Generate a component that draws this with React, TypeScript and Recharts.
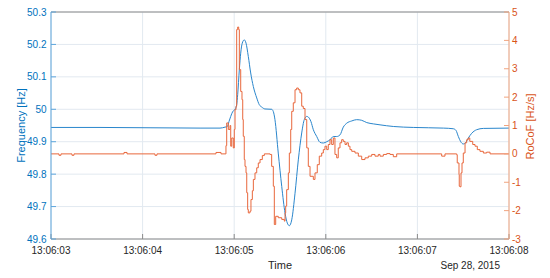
import React from 'react';
import { LineChart, Line, XAxis, YAxis, CartesianGrid, ReferenceLine } from 'recharts';

// time in seconds after 13:06:03
const freqTime = [
  0, 0.535, 1.081, 1.627, 1.845, 1.9, 1.925, 1.943, 1.962, 1.984, 2.009, 2.027, 2.038, 2.056, 2.071, 2.088,
  2.11, 2.129, 2.154, 2.18, 2.209, 2.246, 2.274, 2.3, 2.336, 2.409, 2.427, 2.445, 2.481, 2.519, 2.555, 2.58,
  2.602, 2.628, 2.664, 2.7, 2.737, 2.765, 2.792, 2.809, 2.838, 2.864, 2.901, 2.937, 2.973, 3.01, 3.046, 3.082,
  3.119, 3.155, 3.191, 3.228, 3.283, 3.337, 3.392, 3.447, 3.519, 3.592, 3.737, 3.955, 4.283, 4.392, 4.421,
  4.447, 4.473, 4.501, 4.527, 4.555, 4.593, 4.647, 4.72, 5.0,
];
const freqValues = [
  49.944, 49.944, 49.943, 49.942, 49.942, 49.945, 49.947, 49.962, 49.978, 49.993, 50.0, 50.014, 50.045, 50.122,
  50.173, 50.204, 50.214, 50.204, 50.163, 50.112, 50.07, 50.035, 50.014, 50.007, 50.001, 50.0, 49.993, 49.968,
  49.865, 49.762, 49.68, 49.649, 49.641, 49.659, 49.741, 49.844, 49.927, 49.968, 49.978, 49.976, 49.962, 49.937,
  49.916, 49.898, 49.896, 49.9, 49.906, 49.916, 49.916, 49.921, 49.945, 49.957, 49.964, 49.968, 49.966, 49.959,
  49.955, 49.952, 49.947, 49.944, 49.942, 49.94, 49.935, 49.916, 49.9, 49.893, 49.897, 49.911, 49.926, 49.937,
  49.941, 49.942,
];
const rocofTime = [
  0, 0.087, 0.109, 0.229, 0.251, 0.797, 0.83, 1.135, 1.157, 1.801, 1.856, 1.91, 1.918, 1.936, 1.954, 1.962,
  1.973, 1.99, 2.001, 2.009, 2.02, 2.027, 2.038, 2.049, 2.056, 2.071, 2.085, 2.093, 2.099, 2.11, 2.118, 2.129,
  2.137, 2.147, 2.154, 2.172, 2.183, 2.198, 2.209, 2.227, 2.246, 2.263, 2.282, 2.307, 2.329, 2.391, 2.409,
  2.427, 2.438, 2.453, 2.481, 2.519, 2.547, 2.555, 2.562, 2.573, 2.591, 2.602, 2.617, 2.628, 2.645, 2.664,
  2.682, 2.7, 2.718, 2.737, 2.754, 2.773, 2.792, 2.809, 2.828, 2.864, 2.882, 2.907, 2.929, 2.955, 2.973,
  2.991, 3.01, 3.027, 3.046, 3.064, 3.082, 3.1, 3.119, 3.136, 3.155, 3.173, 3.191, 3.21, 3.228, 3.246, 3.264,
  3.283, 3.319, 3.355, 3.392, 3.428, 3.464, 3.501, 3.537, 3.573, 3.592, 3.628, 3.665, 3.701, 3.737, 3.774,
  4.265, 4.301, 4.429, 4.435, 4.454, 4.457, 4.465, 4.476, 4.487, 4.501, 4.52, 4.538, 4.555, 4.572, 4.604,
  4.629, 4.654, 4.683, 4.72, 4.756, 4.793, 5.0,
];
const rocofValues = [
  0, -0.05, 0, -0.05, 0, 0.05, 0, -0.05, 0, 0.05, 0, 0.29, 1.09, 0.86, 1.0, 0.27,
  0.56, 0.21, 0.86, 1.56, 1.68, 4.38, 4.47, 4.38, 2.97, 2.2, 1.91, 1.21, 0.62, -0.2, -0.44, -0.67,
  -1.37, -1.96, -2.08, -2.02, -1.61, -1.3, -0.9, -0.67, -0.49, -0.32, -0.2, -0.06, 0.0, -0.02, -0.44,
  -1.14, -2.49, -2.2, -2.25, -2.31, -2.37, -2.08, -1.84, -1.26, -0.67, 0.03, 0.86, 1.5, 1.8, 2.26,
  2.32, 2.26, 2.15, 1.68, 1.6, 1.21, 0.21, -0.44, -0.79, -0.9, -0.67, -0.38, -0.08, 0.03, 0.15,
  0.27, 0.15, 0.33, 0.5, 0.33, 0.56, -0.02, -0.14, 0.21, 0.39, 0.5, 0.44, 0.33, 0.39, 0.27, 0.15,
  0.09, 0.03, -0.08, -0.2, -0.14, -0.08, -0.02, -0.08, -0.02, -0.08, -0.02, 0.01, -0.02, -0.1, 0,
  -0.08, 0, -0.03, -0.32, -0.73, -1.14, -1.16, -0.67, -0.32, 0.03, 0.39, 0.5, 0.56, 0.44, 0.33,
  0.27, 0.15, 0.09, 0.03, 0.06, 0, 0,
];

const xTicks = [0, 1, 2, 3, 4, 5];
const xTickLabels = ['13:06:03', '13:06:04', '13:06:05', '13:06:06', '13:06:07', '13:06:08'];
const freqTicks = [49.6, 49.7, 49.8, 49.9, 50.0, 50.1, 50.2, 50.3];
const freqTickLabels = ['49.6', '49.7', '49.8', '49.9', '50', '50.1', '50.2', '50.3'];
const rocofTicks = [-3, -2, -1, 0, 1, 2, 3, 4, 5];
const xTitle = 'Time';
const dateLabel = 'Sep 28, 2015';
const leftTitle = 'Frequency [Hz]';
const rightTitle = 'RoCoF [Hz/s]';

const freqData = freqTime.map((t, i) => ({ t, f: freqValues[i] }));
const rocofData = rocofTime.map((t, i) => ({ t, r: rocofValues[i] }));

const FONT = '"Liberation Sans", Arial, Helvetica, sans-serif';
const BLUE = '#0072BD';
const ORANGE = '#D95319';
const DARK = '#262626';

const XLabel = () => (
  <g>
    <text x={280} y={269} textAnchor="middle" fontSize={11} fontFamily={FONT} fill={DARK}>{xTitle}</text>
    <text x={500} y={269} textAnchor="end" fontSize={10} fontFamily={FONT} fill={DARK}>{dateLabel}</text>
  </g>
);

const LeftLabel = () => (
  <text x={20.5} y={125.5} textAnchor="middle" dominantBaseline="central" fontSize={11} fontFamily={FONT}
    fill={BLUE} transform="rotate(-90 20.5 125.5)">{leftTitle}</text>
);

const RightLabel = () => (
  <text x={530} y={126.5} textAnchor="middle" dominantBaseline="central" fontSize={11} fontFamily={FONT}
    fill={ORANGE} transform="rotate(-90 530 126.5)">{rightTitle}</text>
);

export default function App() {
  return (
    <div style={{ position: 'absolute', left: 0, top: 0, width: 550, height: 278, background: '#fff' }}>
      <LineChart width={550} height={278} margin={{ top: 12, right: 0, bottom: 0, left: 0 }}>
        <CartesianGrid yAxisId="left" stroke="#e2e9f0" strokeWidth={1} />
        <XAxis
          dataKey="t"
          type="number"
          domain={[0, 5]}
          ticks={xTicks}
          tickFormatter={(v: number) => xTickLabels[xTicks.indexOf(v)] ?? ''}
          height={39}
          interval={0}
          stroke="#8a8a8a"
          tickSize={-5}
          tickMargin={13}
          tick={{ fill: DARK, fontSize: 10, fontFamily: FONT }}
          label={<XLabel />}
          allowDataOverflow
        />
        <YAxis
          yAxisId="left"
          orientation="left"
          domain={[49.6, 50.3]}
          ticks={freqTicks}
          tickFormatter={(v: number) => freqTickLabels[freqTicks.findIndex((x) => Math.abs(x - v) < 1e-6)] ?? ''}
          width={51}
          interval={0}
          stroke="#5ea6dc"
          tickSize={-5}
          tickMargin={9.5}
          tick={{ fill: BLUE, fontSize: 10, fontFamily: FONT }}
          label={<LeftLabel />}
          allowDataOverflow
        />
        <YAxis
          yAxisId="right"
          orientation="right"
          domain={[-3, 5]}
          ticks={rocofTicks}
          width={41}
          interval={0}
          stroke="#f0a47f"
          tickSize={-5}
          tickMargin={8}
          tick={{ fill: ORANGE, fontSize: 10, fontFamily: FONT }}
          label={<RightLabel />}
          allowDataOverflow
        />
        <ReferenceLine yAxisId="left" y={50.3} stroke="#8a8a8a" strokeWidth={1} />
        <Line
          yAxisId="left"
          data={freqData}
          dataKey="f"
          type="monotone"
          stroke="#2a86cc"
          strokeWidth={1}
          dot={false}
          activeDot={false}
          isAnimationActive={false}
        />
        <Line
          yAxisId="right"
          data={rocofData}
          dataKey="r"
          type="stepAfter"
          stroke="#e8673c"
          strokeWidth={1}
          dot={false}
          activeDot={false}
          isAnimationActive={false}
        />
      </LineChart>
    </div>
  );
}
